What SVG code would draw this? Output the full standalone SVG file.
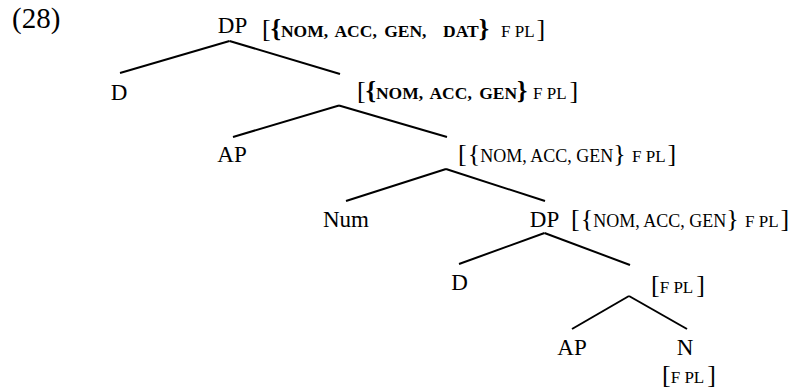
<svg xmlns="http://www.w3.org/2000/svg" width="793" height="391" viewBox="0 0 793 391">
<style>
text,tspan{font-family:'Liberation Serif','Times New Roman',Tinos,'DejaVu Serif',serif;fill:#000}
.n{font-size:23px;text-anchor:middle}
.ex{font-size:29px}
.br{font-size:26px}
.sb{font-size:17.5px;font-weight:bold;word-spacing:3px}
.sr{font-size:18px}
.f{font-size:17px}
.b{font-weight:bold}
.e{stroke:#000;stroke-width:2;fill:none;stroke-linecap:butt}
</style>
<text class="ex" x="12" y="28">(28)</text>
<g id="connectors">
<line class="e" x1="229.5" y1="41" x2="120" y2="73"/>
<line class="e" x1="229.5" y1="41" x2="340" y2="74"/>
<line class="e" x1="339" y1="105.5" x2="233" y2="137"/>
<line class="e" x1="339" y1="105.5" x2="447" y2="137"/>
<line class="e" x1="446" y1="169" x2="346" y2="201"/>
<line class="e" x1="446" y1="169" x2="545" y2="201"/>
<line class="e" x1="544.5" y1="233" x2="459" y2="264"/>
<line class="e" x1="544.5" y1="233" x2="630" y2="265"/>
<line class="e" x1="629" y1="296" x2="572" y2="329"/>
<line class="e" x1="629" y1="296" x2="687" y2="329"/>
</g>
<g id="dp1">
<text class="n" x="232.5" y="33">DP</text>
<text y="37"><tspan class="br" x="262">[</tspan><tspan class="br b">{</tspan><tspan class="sb">NOM, ACC, GEN,</tspan><tspan class="sb" x="443">DAT</tspan><tspan class="br b">}</tspan><tspan class="f" x="501">F PL</tspan><tspan class="br" dx="2">]</tspan></text>
</g>
<g id="d1"><text class="n" x="119" y="100">D</text></g>
<g id="bar1">
<text y="99"><tspan class="br" x="357">[</tspan><tspan class="br b">{</tspan><tspan class="sb">NOM, ACC, GEN</tspan><tspan class="br b">}</tspan><tspan class="f" x="533">F PL</tspan><tspan class="br" dx="3">]</tspan></text>
</g>
<g id="ap1"><text class="n" x="232" y="162">AP</text></g>
<g id="bar2">
<text y="162"><tspan class="br" x="458">[</tspan><tspan class="br" dx="1">{</tspan><tspan class="sr">NOM, ACC, GEN</tspan><tspan class="br">}</tspan><tspan class="f" x="632">F PL</tspan><tspan class="br" dx="2">]</tspan></text>
</g>
<g id="num"><text class="n" x="346" y="227">Num</text></g>
<g id="dp2">
<text class="n" x="544.5" y="227">DP</text>
<text y="227"><tspan class="br" x="571">[</tspan><tspan class="br" dx="1">{</tspan><tspan class="sr">NOM, ACC, GEN</tspan><tspan class="br">}</tspan><tspan class="f" x="745">F PL</tspan><tspan class="br" dx="2">]</tspan></text>
</g>
<g id="d2"><text class="n" x="459.5" y="290">D</text></g>
<g id="bar3">
<text y="293"><tspan class="br" x="651">[</tspan><tspan class="f">F PL</tspan><tspan class="br" dx="3">]</tspan></text>
</g>
<g id="ap2"><text class="n" x="572" y="355">AP</text></g>
<g id="n">
<text class="n" x="685" y="355">N</text>
<text y="383"><tspan class="br" x="662">[</tspan><tspan class="f">F PL</tspan><tspan class="br" dx="3">]</tspan></text>
</g>
</svg>
